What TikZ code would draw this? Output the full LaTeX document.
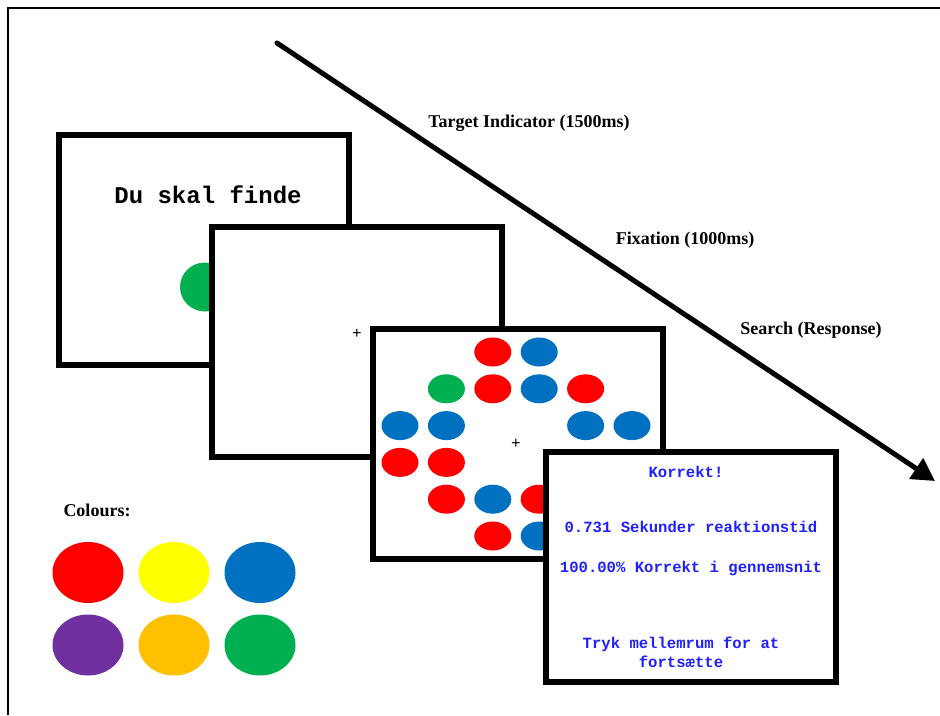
\documentclass[tikz,border=0pt]{standalone}
\usepackage{fontspec}
\setmainfont{Liberation Serif}
\newfontfamily\screenfont{Liberation Mono}
\usetikzlibrary{shapes.geometric, arrows.meta}
\definecolor{dotred}{RGB}{255,0,0}
\definecolor{dotyellow}{RGB}{255,255,0}
\definecolor{dotblue}{RGB}{0,112,192}
\definecolor{dotpurple}{RGB}{112,48,160}
\definecolor{dotorange}{RGB}{255,192,0}
\definecolor{dotgreen}{RGB}{0,176,80}
\definecolor{feedback}{RGB}{32,32,255}
\tikzset{
  screen/.style={draw, line width=4.5pt, fill=white, minimum width=217.5pt, minimum height=172.5pt, inner sep=0pt},
  dot/.style={ellipse, inner sep=0pt, minimum width=27.75pt, minimum height=21.75pt},
  bigdot/.style={ellipse, inner sep=0pt, minimum width=53.25pt, minimum height=45.75pt},
  phase/.style={font=\fontsize{13.5}{16}\selectfont\bfseries},
  fb/.style={text=feedback, font=\screenfont\fontsize{11.7}{14.25}\selectfont\bfseries},
  cross/.style={font=\screenfont\fontsize{12}{12}\selectfont, inner sep=0pt},
}
\begin{document}
\begin{tikzpicture}[x=0.75pt, y=-0.75pt]
\useasboundingbox (0,0) rectangle (940,715);
\draw[line width=1.1pt] (8,715) -- (8,8) -- (940,8);
% time line
\coordinate (start) at (277,43);
\coordinate (end) at (935,481);
\draw[line width=3.75pt, line cap=round, -{Triangle[length=17pt, width=18pt]}] (start) -- (end);
\node (lab1)[phase] at (529,123) {Target Indicator (1500ms)};
\node (lab2)[phase] at (685,240) {Fixation (1000ms)};
\node (lab3)[phase] at (811,330) {Search (Response)};
% target indicator
\node (target)[screen] at (204,250) {};
\node (tdot)[ellipse, inner sep=0pt, minimum width=37.5pt, minimum height=36.75pt, fill=dotgreen] at (205,287) {};
\node (ttext)[font=\screenfont\fontsize{18}{20}\selectfont\bfseries] at (208,195) {Du skal finde};
% fixation
\node (fix)[screen] at (356.5,342) {};
\node (fcross)[cross] at (357,334) {+};
% search
\node (search)[screen] at (518,443.5) {};
\node (scross)[cross] at (516,444) {+};
\node (s1)[dot, fill=dotred] at (492.8,352) {};
\node (s2)[dot, fill=dotblue] at (539.2,352) {};
\node (s3)[dot, fill=dotgreen] at (446.4,388.8) {};
\node (s4)[dot, fill=dotred] at (492.8,388.8) {};
\node (s5)[dot, fill=dotblue] at (539.2,388.8) {};
\node (s6)[dot, fill=dotred] at (585.6,388.8) {};
\node (s7)[dot, fill=dotblue] at (400,425.6) {};
\node (s8)[dot, fill=dotblue] at (446.4,425.6) {};
\node (s9)[dot, fill=dotblue] at (585.6,425.6) {};
\node (s10)[dot, fill=dotblue] at (632,425.6) {};
\node (s11)[dot, fill=dotred] at (400,462.4) {};
\node (s12)[dot, fill=dotred] at (446.4,462.4) {};
\node (s13)[dot, fill=dotred] at (446.4,499.2) {};
\node (s14)[dot, fill=dotblue] at (492.8,499.2) {};
\node (s15)[dot, fill=dotred] at (539.2,499.2) {};
\node (s16)[dot, fill=dotred] at (492.8,536) {};
\node (s17)[dot, fill=dotblue] at (539.2,536) {};
% feedback
\node (feedback)[screen] at (691,566.5) {};
\node (f1)[fb] at (686,472) {Korrekt!};
\node (f2)[fb] at (691,527) {0.731 Sekunder reaktionstid};
\node (f3)[fb] at (691,568) {100.00\% Korrekt i gennemsnit};
\node (f4)[fb, align=center] at (681,652) {Tryk mellemrum for at\\fortsætte};
% colours
\node (colours)[phase] at (97,510) {Colours:};
\node (c1)[bigdot, fill=dotred] at (88,572.5) {};
\node (c2)[bigdot, fill=dotyellow] at (174,572.5) {};
\node (c3)[bigdot, fill=dotblue] at (260,572.5) {};
\node (c4)[bigdot, fill=dotpurple] at (88,645) {};
\node (c5)[bigdot, fill=dotorange] at (174,645) {};
\node (c6)[bigdot, fill=dotgreen] at (260,645) {};
\end{tikzpicture}
\end{document}
